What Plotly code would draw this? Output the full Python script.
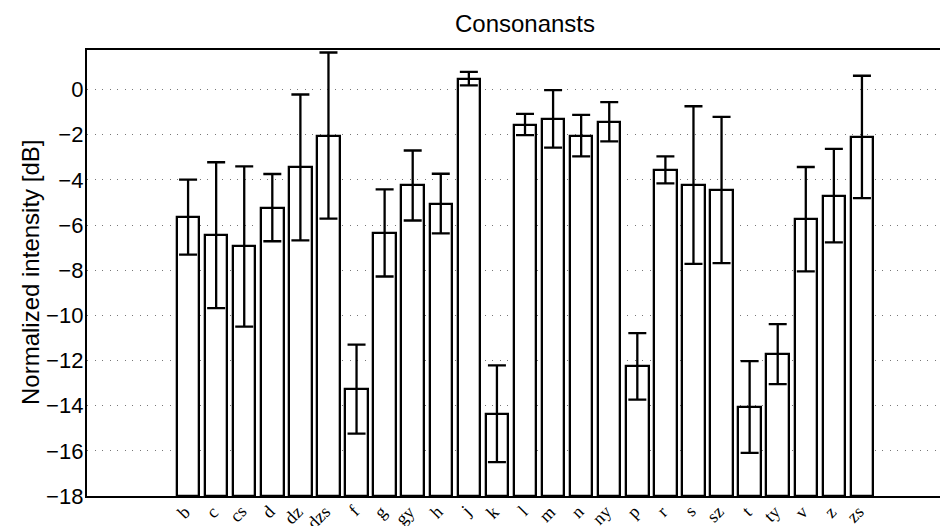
import numpy as np
import plotly.graph_objects as go

categories = ["b", "c", "cs", "d", "dz", "dzs", "f", "g", "gy", "h", "j", "k", "l",
              "m", "n", "ny", "p", "r", "s", "sz", "t", "ty", "v", "z", "zs"]
means = [-5.65, -6.45, -6.95, -5.23, -3.45, -2.04, -13.27, -6.35, -4.25, -5.05, 0.48, -14.36, -1.55,
         -1.30, -2.04, -1.43, -12.26, -3.56, -4.23, -4.45, -14.06, -11.72, -5.74, -4.70, -2.10]
errors = [1.66, 3.23, 3.55, 1.49, 3.23, 3.68, 1.97, 1.93, 1.55, 1.32, 0.30, 2.14, 0.47,
          1.27, 0.92, 0.87, 1.47, 0.60, 3.49, 3.24, 2.03, 1.33, 2.31, 2.07, 2.71]
y_ticks = [0, -2, -4, -6, -8, -10, -12, -14, -16, -18]
y_base = -18
title_text = "Consonansts"
y_label = "Normalized intensity [dB]"

x = np.arange(1, len(categories) + 1)
means_arr = np.array(means)

fig = go.Figure()
fig.add_trace(go.Bar(
    x=x,
    y=means_arr - y_base,
    base=y_base,
    width=0.8,
    marker=dict(color="white", line=dict(color="black", width=2.3)),
    error_y=dict(type="data", array=errors, symmetric=True, color="black",
                 thickness=2.3, width=9),
    showlegend=False,
))

W, H = 948, 526
ml, mr, mt, mb = 79, 0, 42, 38
pw = W - ml - mr

fig.update_layout(
    width=W, height=H,
    margin=dict(l=ml, r=mr, t=mt, b=mb),
    paper_bgcolor="white", plot_bgcolor="white",
    font=dict(family="Liberation Sans, Arial, sans-serif", color="black", size=22),
    title=dict(text=title_text, x=(517 - ml) / pw, xref="paper", xanchor="center",
               y=1 - 16 / H, yref="container", yanchor="middle",
               font=dict(size=24, color="black")),
    xaxis=dict(
        range=[-2.6, 28.35], tickmode="array", tickvals=x, showticklabels=False,
        showgrid=False, zeroline=False, showline=True, linecolor="black", linewidth=2.3,
        mirror=True, ticks="", automargin=False,
    ),
    yaxis=dict(
        range=[-18, 1.75], tickmode="array", tickvals=y_ticks,
        ticktext=[("\u2212" + str(-v)) if v < 0 else str(v) for v in y_ticks],
        showgrid=True, gridcolor="#777777", gridwidth=1, griddash="1px,6.5px",
        zeroline=False, showline=True, linecolor="black", linewidth=2.3, mirror=False,
        ticks="", tickfont=dict(size=22), ticklabelstandoff=-3, automargin=False,
    ),
    bargap=0,
)

# rotated category labels below the axis
for xi, lab in zip(x, categories):
    fig.add_annotation(
        text=lab, x=xi, xref="x", y=0, yref="paper",
        xanchor="right", yanchor="top", xshift=9, yshift=-3,
        textangle=-45, showarrow=False,
        font=dict(family="Liberation Serif, Times New Roman, serif", size=18, color="black"),
    )

fig.add_annotation(
    text=y_label, textangle=-90, xref="paper", yref="paper",
    x=(22 - ml) / pw, y=0.5, xanchor="center", yanchor="middle", showarrow=False,
    font=dict(size=24, color="black"),
)

fig.write_html("out.html")
